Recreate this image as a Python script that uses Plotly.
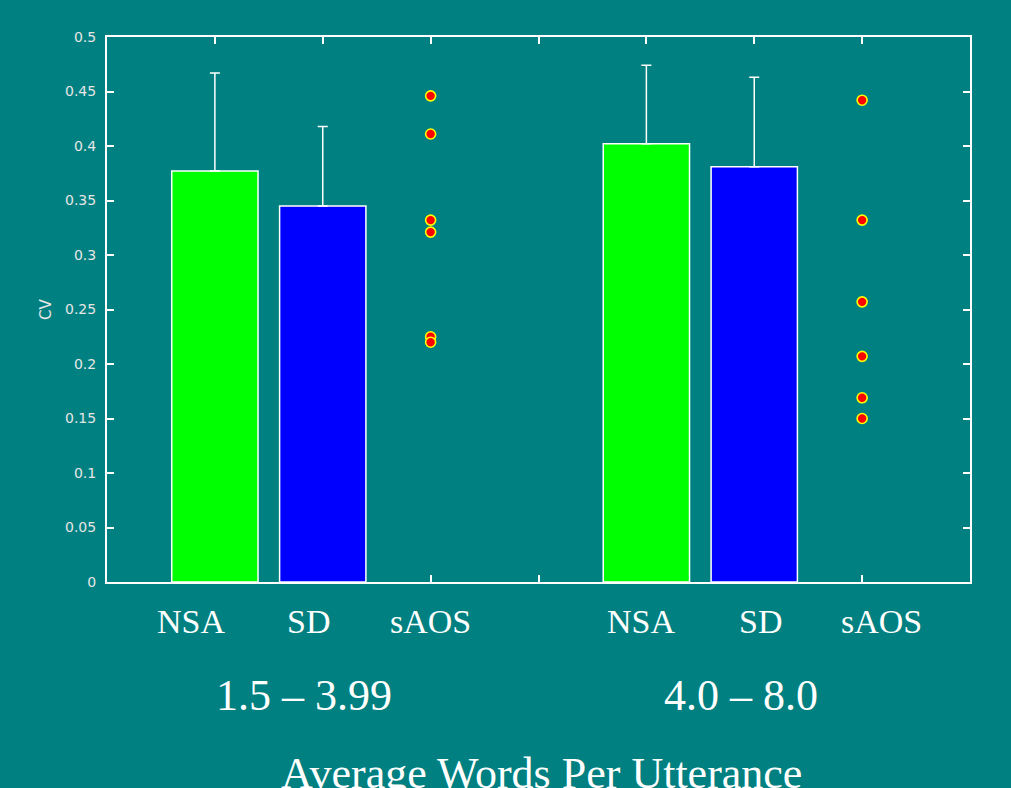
import plotly.graph_objects as go

# Word-count bins and speaker groups
bins = ["1.5 – 3.99", "4.0 – 8.0"]
groups = ["NSA", "SD", "sAOS"]

# Slot positions along the x axis (one empty slot between bins)
nsa_x = [1, 5]
sd_x = [2, 6]
saos_x = [3, 7]

# Group means and upper standard deviations
nsa_mean = [0.377, 0.402]
nsa_sd = [0.090, 0.072]
sd_mean = [0.345, 0.381]
sd_sd = [0.073, 0.082]

# Individual sAOS speakers
saos_bin1 = [0.446, 0.411, 0.332, 0.321, 0.225, 0.220]
saos_bin2 = [0.442, 0.332, 0.257, 0.207, 0.169, 0.150]

# Label placement (x in axis units)
label_x = [0.78, 1.87, 3.0, 4.95, 6.06, 7.18]
label_text = groups + groups
bin_label_x = [1.83, 5.88]

BG = "#008080"
WHITE = "#ffffff"
TICK_GREY = "#e6e6e6"

fig = go.Figure()

err_style = dict(type="data", symmetric=False, color=WHITE, thickness=1.5, width=5)

fig.add_trace(go.Bar(
    x=nsa_x, y=nsa_mean, width=0.8,
    marker=dict(color="#00ff00", line=dict(color=WHITE, width=1.5)),
    error_y=dict(array=nsa_sd, arrayminus=[0, 0], **err_style),
    showlegend=False,
))
fig.add_trace(go.Bar(
    x=sd_x, y=sd_mean, width=0.8,
    marker=dict(color="#0000ff", line=dict(color=WHITE, width=1.5)),
    error_y=dict(array=sd_sd, arrayminus=[0, 0], **err_style),
    showlegend=False,
))

saos_px = [saos_x[0]] * len(saos_bin1) + [saos_x[1]] * len(saos_bin2)
saos_py = saos_bin1 + saos_bin2
fig.add_trace(go.Scatter(
    x=saos_px, y=saos_py, mode="markers",
    marker=dict(color="#ff0000", size=10, line=dict(color="#ffff00", width=1.6)),
    showlegend=False,
))

annotations = []
for xv, txt in zip(label_x, label_text):
    annotations.append(dict(
        x=xv, y=-0.073, xref="x", yref="paper", text=txt, showarrow=False,
        xanchor="center", yanchor="middle",
        font=dict(family="Liberation Serif", size=34, color=WHITE),
    ))
for xv, txt in zip(bin_label_x, bins):
    annotations.append(dict(
        x=xv, y=-0.209, xref="x", yref="paper", text=txt, showarrow=False,
        xanchor="center", yanchor="middle",
        font=dict(family="Liberation Serif", size=44, color=WHITE),
    ))
annotations.append(dict(
    x=0.503, y=-0.352, xref="paper", yref="paper", text="Average Words Per Utterance",
    showarrow=False, xanchor="center", yanchor="middle",
    font=dict(family="Liberation Serif", size=44, color=WHITE),
))

fig.update_layout(
    width=1011, height=788,
    paper_bgcolor=BG, plot_bgcolor=BG,
    margin=dict(l=107, r=41, t=37, b=206, autoexpand=False),
    barmode="overlay",
    annotations=annotations,
    xaxis=dict(
        range=[0, 8], tickvals=[1, 2, 3, 4, 5, 6, 7], showticklabels=False,
        ticks="inside", ticklen=7, tickwidth=1.5, tickcolor=WHITE,
        showline=True, linecolor=WHITE, linewidth=2, mirror="allticks",
        showgrid=False, zeroline=False, layer="below traces",
    ),
    yaxis=dict(
        range=[0, 0.5], tickvals=[0, 0.05, 0.1, 0.15, 0.2, 0.25, 0.3, 0.35, 0.4, 0.45, 0.5],
        ticktext=["0", "0.05", "0.1", "0.15", "0.2", "0.25", "0.3", "0.35", "0.4", "0.45", "0.5"],
        ticks="inside", ticklen=7, tickwidth=1.5, tickcolor=WHITE,
        tickfont=dict(family="DejaVu Sans", size=14, color=TICK_GREY),
        ticklabelstandoff=6,
        showline=True, linecolor=WHITE, linewidth=2, mirror="allticks",
        showgrid=False, zeroline=False, layer="below traces",
        title=dict(text="CV", standoff=10,
                   font=dict(family="DejaVu Sans", size=15, color=TICK_GREY)),
    ),
)

fig.write_html("out.html")
